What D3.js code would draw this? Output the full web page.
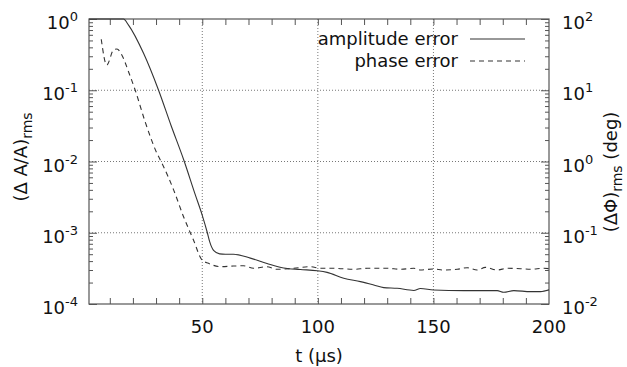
<!DOCTYPE html>
<html lang="en">
<head>
    <meta charset="UTF-8">
    <title>Amplitude / phase error</title>
    <script src="https://d3js.org/d3.v7.min.js"></script>
    <style>
        body { margin: 0; background: #fff; }
        text { font-family: "DejaVu Sans", sans-serif; fill: #111; }
    </style>
</head>
<body>
<script>
    // amplitude error (left axis)
    const ampT = [1, 15.9, 18.1, 24.6, 31.1, 36.5, 42.0, 47.0, 49.9, 52.2, 53.2, 55.0, 57.5, 60.0, 63.5, 70.8, 78.0, 85.2,
        92.4, 99.7, 104, 111.2, 118.4, 124.2, 128.5, 134.3, 141.5, 144.4, 150.1, 163.1, 177.6, 180.4, 184.8, 192, 196.3, 200];
    const ampV = [1, 1, 0.82, 0.33, 0.1, 0.032, 0.0105, 0.0034, 0.0018, 1.0e-3, 7.5e-4, 5.6e-4, 5.05e-4, 5.0e-4, 5.0e-4, 4.4e-4, 3.7e-4, 3.2e-4,
        3.05e-4, 2.93e-4, 2.78e-4, 2.3e-4, 2.06e-4, 1.85e-4, 1.7e-4, 1.66e-4, 1.55e-4, 1.65e-4, 1.57e-4, 1.54e-4, 1.54e-4, 1.46e-4, 1.54e-4, 1.49e-4, 1.49e-4, 1.58e-4];

    // phase error in degrees (right axis)
    const phaseT = [6.3, 8.7, 11.6, 13.1, 15.2, 18.1, 21, 25.3, 30.4, 32.6, 37.6, 41.9, 46.2, 49.9, 52.7, 57.8, 63.5, 67.8, 72.2,
        78, 82.3, 89.5, 96.8, 101.1, 106.9, 115.5, 121.3, 130, 135.7, 141.5, 144.4, 150.1, 154.4, 160.3, 164.6, 168.9,
        172.5, 177.6, 181.9, 187.7, 192, 197.8, 200];
    const phaseV = [52, 22.6, 36.7, 37.9, 31.3, 18.2, 10, 3.6, 1.3, 0.94, 0.40, 0.168, 0.079, 0.0414, 0.0372, 0.0334, 0.0341, 0.0344, 0.0317,
        0.0334, 0.0307, 0.0317, 0.0334, 0.0317, 0.0317, 0.0307, 0.0317, 0.0317, 0.0307, 0.0317, 0.0300, 0.0310, 0.0300, 0.0307, 0.0323, 0.0300,
        0.0327, 0.0300, 0.0317, 0.0313, 0.0307, 0.0317, 0.0313];

    const xTicks = [50, 100, 150, 200];
    const leftExp = [-4, -3, -2, -1, 0];
    const rightExp = [-2, -1, 0, 1, 2];
    const legendNames = ["amplitude error", "phase error"];

    const W = 627, H = 367;
    const margin = { top: 19, right: 78, bottom: 63, left: 89 };
    const width = W - margin.left - margin.right;
    const height = H - margin.top - margin.bottom;

    const svg = d3.select("body").append("svg")
        .attr("width", W).attr("height", H);
    const g = svg.append("g")
        .attr("transform", "translate(" + margin.left + "," + margin.top + ")");

    const x = d3.scaleLinear().domain([1, 200]).range([0, width]);
    const yL = d3.scaleLog().domain([1e-4, 1]).range([height, 0]);
    const yR = d3.scaleLog().domain([1e-2, 1e2]).range([height, 0]);

    // grid
    const grid = g.append("g").attr("stroke", "#777").attr("stroke-dasharray", "1,2");
    grid.selectAll(".gx").data(xTicks.slice(0, 3)).enter().append("line")
        .attr("x1", d => x(d)).attr("x2", d => x(d)).attr("y1", 0).attr("y2", height);
    grid.selectAll(".gy").data(leftExp.slice(1, 4)).enter().append("line")
        .attr("x1", 0).attr("x2", width)
        .attr("y1", d => yL(Math.pow(10, d))).attr("y2", d => yL(Math.pow(10, d)));

    // minor x ticks every 10 (bottom + top), inward
    const xMinor = d3.range(10, 200, 10);
    function styleAxis(sel) {
        sel.select(".domain").remove();
        sel.selectAll("line").attr("stroke", "#555");
    }
    g.append("g").attr("transform", "translate(0," + height + ")")
        .call(d3.axisBottom(x).tickValues(xMinor).tickSize(-6).tickFormat("")).call(styleAxis);
    g.append("g")
        .call(d3.axisTop(x).tickValues(xMinor).tickSize(-6).tickFormat("")).call(styleAxis);

    // log ticks left / right
    const minorL = [], minorR = [];
    leftExp.slice(0, 4).forEach(e => { for (let k = 2; k < 10; k++) minorL.push(k * Math.pow(10, e)); });
    rightExp.slice(0, 4).forEach(e => { for (let k = 2; k < 10; k++) minorR.push(k * Math.pow(10, e)); });
    g.append("g").call(d3.axisLeft(yL).tickValues(leftExp.map(e => Math.pow(10, e))).tickSize(-8).tickFormat("")).call(styleAxis);
    g.append("g").call(d3.axisLeft(yL).tickValues(minorL).tickSize(-4).tickFormat("")).call(styleAxis);
    g.append("g").attr("transform", "translate(" + width + ",0)")
        .call(d3.axisRight(yR).tickValues(rightExp.map(e => Math.pow(10, e))).tickSize(-8).tickFormat("")).call(styleAxis);
    g.append("g").attr("transform", "translate(" + width + ",0)")
        .call(d3.axisRight(yR).tickValues(minorR).tickSize(-4).tickFormat("")).call(styleAxis);

    // border
    g.append("rect").attr("width", width).attr("height", height)
        .attr("fill", "none").attr("stroke", "#555").attr("stroke-width", 1.2);

    // tick labels
    g.selectAll(".xl").data(xTicks).enter().append("text")
        .attr("x", d => x(d)).attr("y", height + 29)
        .attr("text-anchor", "middle").attr("font-size", 18).text(d => d);

    function powLabel(sel, xPos, anchor) {
        sel.attr("x", xPos).attr("text-anchor", anchor).attr("font-size", 18);
        sel.append("tspan").text("10");
        sel.append("tspan").attr("dy", -8).attr("font-size", 13).text(d => d);
    }
    g.selectAll(".yl").data(leftExp).enter().append("text")
        .attr("y", d => yL(Math.pow(10, d)) + 10)
        .call(powLabel, -11, "end");
    g.selectAll(".yr").data(rightExp).enter().append("text")
        .attr("y", d => yR(Math.pow(10, d)) + 10)
        .call(powLabel, width + 13, "start");

    // axis titles
    const tl = svg.append("text").attr("font-size", 18).attr("text-anchor", "middle")
        .attr("transform", "translate(27,157) rotate(-90)");
    tl.append("tspan").text("(Δ A/A)");
    tl.append("tspan").attr("dy", 5).attr("font-size", 14).text("rms");
    const tr = svg.append("text").attr("font-size", 18).attr("text-anchor", "middle")
        .attr("transform", "translate(617,172) rotate(-90)");
    tr.append("tspan").text("(ΔΦ)");
    tr.append("tspan").attr("dy", 5).attr("font-size", 14).text("rms");
    tr.append("tspan").attr("dy", -5).text(" (deg)");
    svg.append("text").attr("x", 319).attr("y", 362).attr("font-size", 18)
        .attr("text-anchor", "middle").text("t (µs)");

    // data lines
    svg.append("defs").append("clipPath").attr("id", "clip")
        .append("rect").attr("x", 0).attr("y", -1).attr("width", width).attr("height", height + 1);
    const lineL = d3.line().x(d => x(d[0])).y(d => yL(d[1])).curve(d3.curveMonotoneX);
    const lineR = d3.line().x(d => x(d[0])).y(d => yR(d[1])).curve(d3.curveMonotoneX);
    const plot = g.append("g").attr("clip-path", "url(#clip)");
    plot.append("path").datum(ampT.map((t, i) => [t, ampV[i]]))
        .attr("d", lineL).attr("fill", "none").attr("stroke", "#333").attr("stroke-width", 1.1);
    plot.append("path").datum(phaseT.map((t, i) => [t, phaseV[i]]))
        .attr("d", lineR).attr("fill", "none").attr("stroke", "#333").attr("stroke-width", 1.1)
        .attr("stroke-dasharray", "5,4");

    // legend
    const leg = svg.append("g");
    legendNames.forEach((name, i) => {
        const yy = 45 + i * 22;
        leg.append("text").attr("x", 458).attr("y", yy).attr("text-anchor", "end")
            .attr("font-size", 18).text(name);
        leg.append("line").attr("x1", 470).attr("x2", 525).attr("y1", yy - 6).attr("y2", yy - 6)
            .attr("stroke", "#333").attr("stroke-width", 1.1)
            .attr("stroke-dasharray", i === 1 ? "5,4" : null);
    });
</script>
</body>
</html>
